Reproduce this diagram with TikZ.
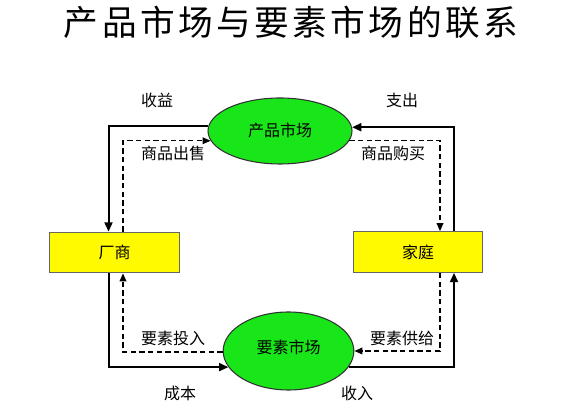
\documentclass[tikz,border=0pt]{standalone}
\usepackage{fontspec}
\setmainfont{Noto Sans CJK SC}
\newfontfamily\titlefont[LetterSpace=10]{Noto Sans CJK SC}
\usetikzlibrary{arrows.meta,shapes.geometric}
\definecolor{mktgreen}{RGB}{25,230,25}
\definecolor{agtyellow}{RGB}{255,250,0}
\begin{document}
\begin{tikzpicture}[x=0.75pt,y=0.75pt,font=\fontsize{12}{14}\selectfont,
    market/.style={ellipse, draw=black!80, thick, fill=mktgreen, inner sep=0pt},
    agent/.style={rectangle, draw=black!60, thick, fill=agtyellow, minimum width=97pt, minimum height=30.5pt},
    money/.style={line width=1.5pt, -{Triangle[length=7pt,width=6pt]}},
    goods/.style={line width=1pt, dash pattern=on 4pt off 2.5pt, -{Triangle[length=6pt,width=5pt]}},
    lbl/.style={inner sep=1pt}]
    \useasboundingbox (0,0) rectangle (580,416);

    \node[font=\titlefont\fontsize{26}{30}\selectfont] (ttl) at (291,394) {产品市场与要素市场的联系};

    \node[market, minimum width=108pt, minimum height=49.5pt] (pm) at (280,285) {\raisebox{2pt}{产品市场}};
    \node[market, minimum width=98pt, minimum height=58.5pt] (ym) at (288.5,65) {\raisebox{7pt}{要素市场}};
    \node[agent] (cs) at (114.5,163.5) {厂商};
    \node[agent] (jt) at (418,164) {家庭};

    \coordinate (cL) at (108.5,0);
    \coordinate (dL) at (123,0);
    \coordinate (dR) at (440,0);
    \coordinate (cR) at (454,0);

    % top loop
    \draw[money] (pm.176) -| (cs.north -| cL);
    \draw[goods] (cs.north -| dL) |- (pm.188);
    \draw[money] (jt.north -| cR) |- (pm.3);
    \draw[goods] (pm.352) -| (jt.north -| dR);

    % bottom loop
    \draw[money] (cs.south -| cL) |- (ym.195);
    \draw[goods] (ym.181) -| (cs.south -| dL);
    \draw[money] (ym.345) -| (jt.south -| cR);
    \draw[goods] (jt.south -| dR) |- (ym.0);

    \node[lbl] (sy) at (157,316) {收益};
    \node[lbl] (spcs) at (173,263) {商品出售};
    \node[lbl] (zc) at (402,316) {支出};
    \node[lbl] (spgm) at (393,263) {商品购买};
    \node[lbl] (ystr) at (173,78) {要素投入};
    \node[lbl] (cb) at (180,23) {成本};
    \node[lbl] (ysgj) at (402,78) {要素供给};
    \node[lbl] (sr) at (357,23) {收入};
\end{tikzpicture}
\end{document}
